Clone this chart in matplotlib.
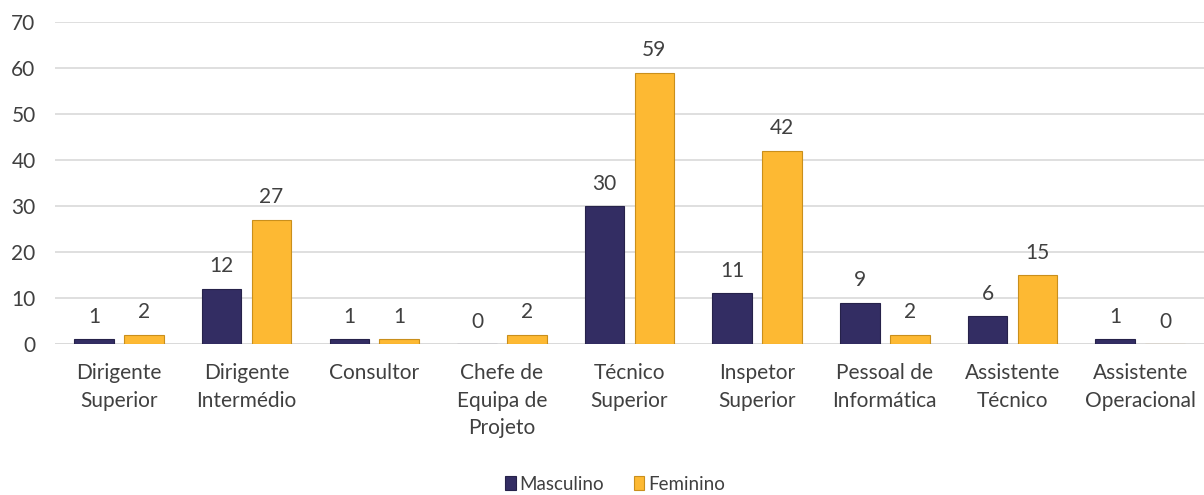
import matplotlib.pyplot as plt
import numpy as np

categorias = ['Dirigente\nSuperior', 'Dirigente\nIntermédio', 'Consultor',
              'Chefe de\nEquipa de\nProjeto', 'Técnico\nSuperior', 'Inspetor\nSuperior',
              'Pessoal de\nInformática', 'Assistente\nTécnico', 'Assistente\nOperacional']
masculino = [1, 12, 1, 0, 30, 11, 9, 6, 1]
feminino = [2, 27, 1, 2, 59, 42, 2, 15, 0]
yticks = [0, 10, 20, 30, 40, 50, 60, 70]

plt.rcParams['font.family'] = ['Lato', 'DejaVu Sans']

fig = plt.figure(figsize=(12.04, 4.95), dpi=100)
ax = fig.add_axes([0.0457, 0.305, 0.9543, 0.6506])

x = np.arange(len(categorias))
w = 0.31
off = 0.195
b1 = ax.bar(x - off, masculino, w, color='#332D63', edgecolor='#26224a', linewidth=0.8,
            label='Masculino', zorder=3)
b2 = ax.bar(x + off, feminino, w, color='#FDB933', edgecolor='#c98f1c', linewidth=0.8,
            label='Feminino', zorder=3)

for bars, vals in ((b1, masculino), (b2, feminino)):
    for r, v in zip(bars, vals):
        ax.annotate(str(v), (r.get_x() + r.get_width() / 2, v), xytext=(0, 9),
                    textcoords='offset points', ha='center', va='bottom',
                    fontsize=15, color='#404040')

ax.set_xlim(-0.5, len(categorias) - 0.5)
ax.set_ylim(0, 70)
ax.set_yticks(yticks)
ax.set_xticks(x)
ax.set_xticklabels(categorias, fontsize=15, color='#404040', linespacing=1.45)
ax.tick_params(axis='y', labelsize=15, labelcolor='#404040', length=0, pad=14)
ax.tick_params(axis='x', length=0, pad=14)
ax.yaxis.grid(True, color='#D9D9D9', linewidth=1.2, zorder=0)
for s in ax.spines.values():
    s.set_visible(False)
ax.axhline(0, color='#D9D9D9', linewidth=1.2, zorder=1)

fig.legend(loc='center', bbox_to_anchor=(0.511, 0.022), ncol=2, frameon=False,
           fontsize=13.5, handlelength=0.55, handleheight=0.8, handletextpad=0.2,
           columnspacing=1.6, labelcolor='#404040')

fig.savefig('out.png', dpi=100)
